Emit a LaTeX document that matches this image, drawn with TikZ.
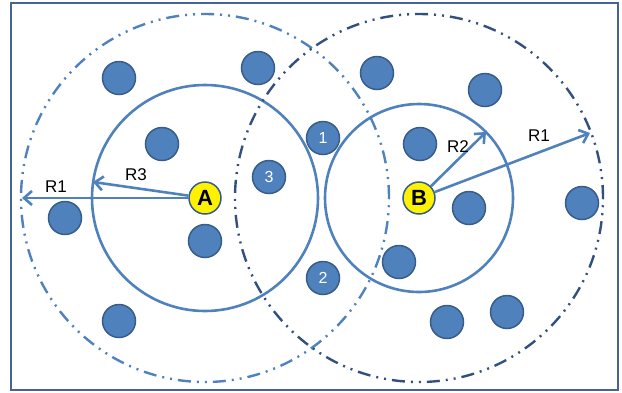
\documentclass[tikz,border=0pt]{standalone}
\usepackage{fontspec}
\setmainfont{Liberation Sans}
\usepackage{tikz}
\usetikzlibrary{arrows.meta}
\definecolor{dotblue}{RGB}{79,129,189}
\definecolor{dotedge}{RGB}{56,93,138}
\definecolor{ringdark}{RGB}{50,80,125}
\definecolor{frameblue}{RGB}{70,100,150}

\begin{document}
\begin{tikzpicture}[x=1pt,y=-1pt,
    dot/.style={circle,fill=dotblue,draw=dotedge,line width=1.5pt,minimum size=33pt,inner sep=0pt,text=white,font=\fontsize{16}{16}\selectfont},
    ap/.style={circle,fill=yellow,draw=dotedge,line width=1.5pt,minimum size=32pt,inner sep=0pt,font=\fontsize{22}{22}\selectfont\bfseries},
    ring/.style={draw=dotblue,line width=2.6pt},
    reach/.style={line width=2.4pt,dash pattern=on 13pt off 6pt on 2pt off 6pt on 2pt off 6pt},
    ray/.style={dotblue,line width=2.6pt,-{Straight Barb[length=8pt,width=14pt]}},
    lbl/.style={font=\fontsize{17}{17}\selectfont}]
    % Frame
    \useasboundingbox (0,0) rectangle (622,392);
    \draw[frameblue,line width=2.2pt] (11,3) rectangle (618,390);

    % Ranges of A and B
    \draw[ring] (205,198) circle (113pt);
    \draw[reach,dotblue] (205,198) circle (184pt);
    \draw[ring] (419,198) circle (94pt);
    \draw[reach,ringdark] (419,198) circle (184pt);

    % Other nodes
    \foreach \x/\y [count=\i] in {119/78,258/68,162/144,65/218,205/241,119/321,
        377/73,485/90,420/144,469/208,582/203,399/262,447/322,507/312}
        \node[dot] (d\i) at (\x,\y) {};
    \node[dot] (n1) at (323,138) {1};
    \node[dot] (n2) at (323,278) {2};
    \node[dot] (n3) at (269,177) {3};

    % Anchors A and B
    \node[ap] (A) at (205,198) {A};
    \node[ap] (B) at (419,198) {B};

    % Radii
    \coordinate (a1) at (22,198);
    \coordinate (a3) at (93,182);
    \coordinate (b2) at (486,132);
    \coordinate (b1) at (590,133);
    \draw[ray] (A) -- (a1);
    \draw[ray] (A) -- (a3);
    \draw[ray] (B) -- (b2);
    \draw[ray] (B) -- (b1);
    \node[lbl] (la1) at (56,187) {R1};
    \node[lbl] (la3) at (136,175) {R3};
    \node[lbl] (lb2) at (458,147) {R2};
    \node[lbl] (lb1) at (539,136) {R1};
\end{tikzpicture}
\end{document}
